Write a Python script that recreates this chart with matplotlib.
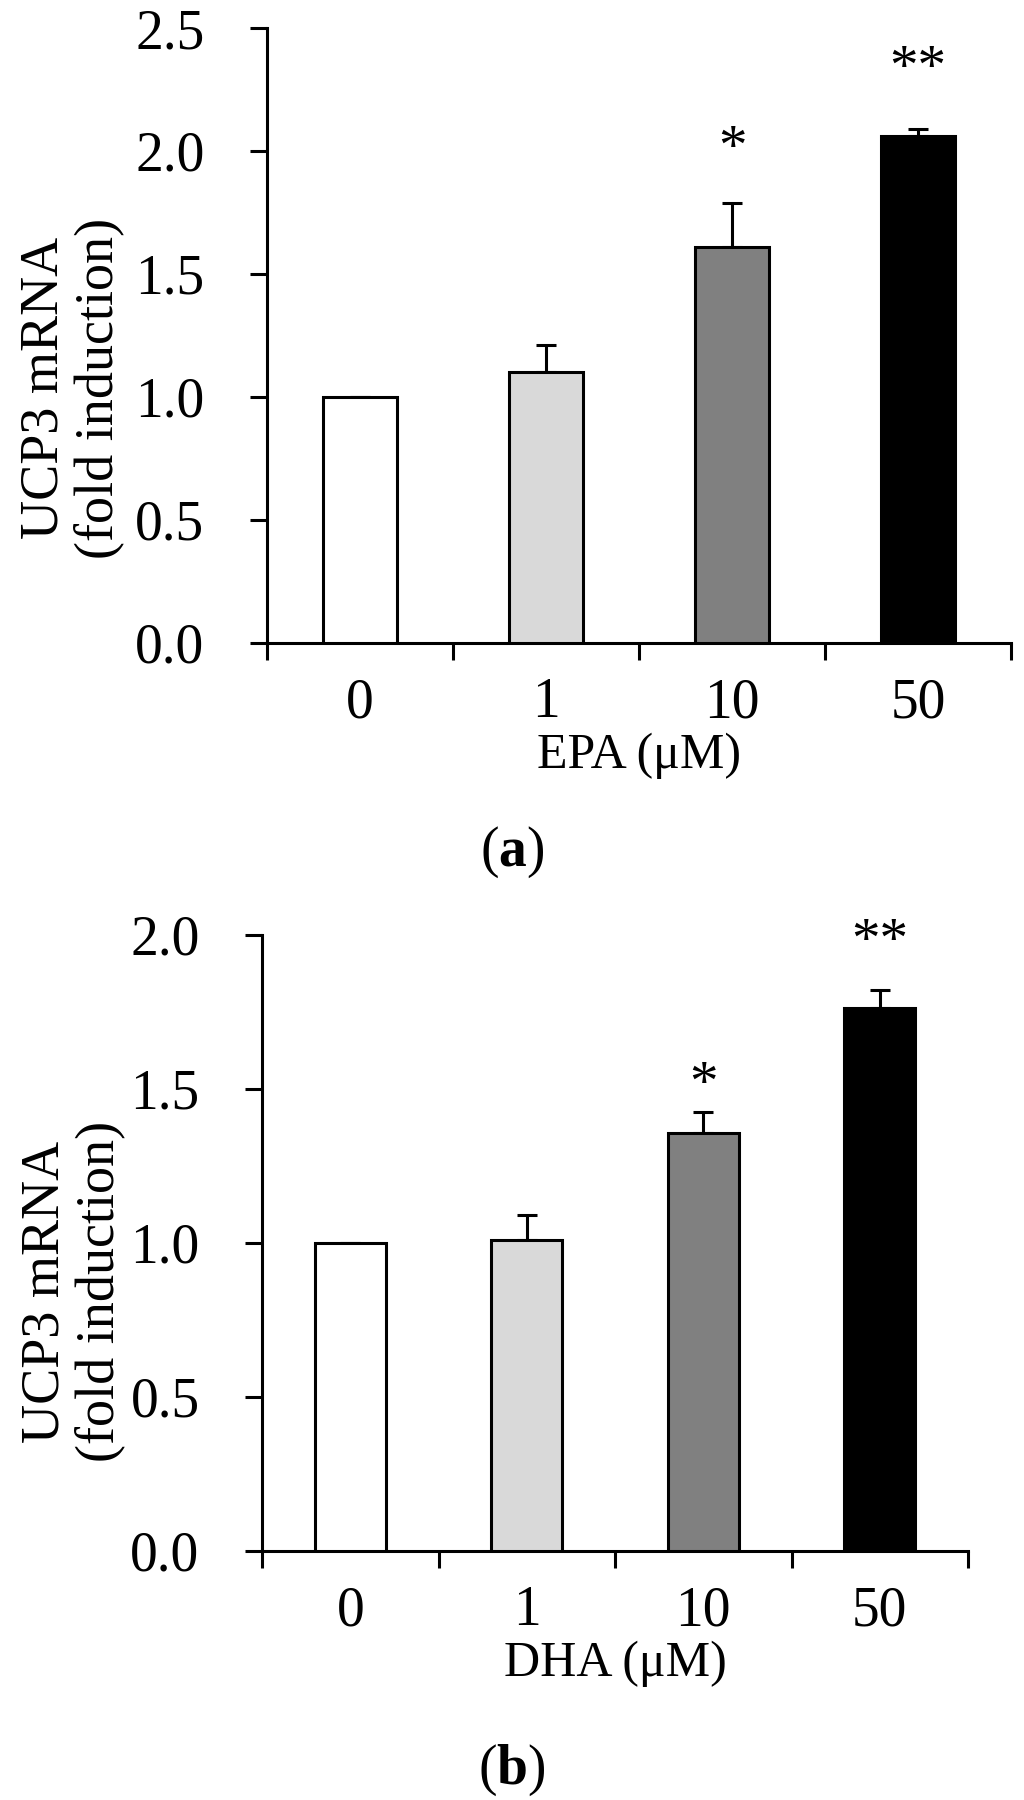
import matplotlib
matplotlib.use('Agg')
import matplotlib.pyplot as plt
import numpy as np

# data
doses = ['0', '1', '10', '50']
bar_colors = ['#ffffff', '#d9d9d9', '#808080', '#000000']

epa_mean = [1.00, 1.10, 1.61, 2.06]
epa_err = [0.00, 0.11, 0.18, 0.03]
epa_stars = ['', '', '*', '**']

dha_mean = [1.00, 1.01, 1.355, 1.76]
dha_err = [0.00, 0.08, 0.068, 0.06]
dha_stars = ['', '', '*', '**']

plt.rcParams['font.family'] = ['Liberation Serif', 'DejaVu Serif']
plt.rcParams['mathtext.fontset'] = 'custom'
plt.rcParams['mathtext.rm'] = 'Liberation Serif'
plt.rcParams['mathtext.bf'] = 'Liberation Serif:bold'

LW = 2.2


def plot_panel(ax, means, errs, stars, ymax, xlabel, star_offsets, label_xy):
    """
    draw one bar panel
    """
    x = np.arange(len(means)) + 0.5

    ax.bar(x, means, width=0.4, color=bar_colors, edgecolor='black',
           linewidth=LW, zorder=3)
    ax.errorbar(x, means, yerr=[np.zeros(len(errs)), errs], fmt='none',
                ecolor='black', elinewidth=LW, capsize=7.5, capthick=LW,
                zorder=2)

    for xi, m, e, s, off in zip(x, means, errs, stars, star_offsets):
        if s:
            ax.annotate(s, xy=(xi, m + e), xytext=(0, off),
                        textcoords='offset points', ha='center',
                        va='baseline', fontsize=41)

    ax.set_xlim(0, len(means))
    ax.set_ylim(0, ymax)
    ax.set_yticks(np.arange(0, ymax + 0.01, 0.5))
    ax.set_yticklabels(['%.1f' % v for v in np.arange(0, ymax + 0.01, 0.5)])
    ax.set_xticks(np.arange(0, len(means) + 1))
    ax.set_xticklabels([])
    ax.set_xticks(x, minor=True)
    ax.set_xticklabels(doses, minor=True)

    ax.tick_params(axis='y', which='major', direction='out', length=12,
                   width=LW, labelsize=40, pad=33)
    ax.tick_params(axis='x', which='major', direction='out', length=12,
                   width=LW)
    ax.tick_params(axis='x', which='minor', length=0, labelsize=40, pad=25)

    for side in ['top', 'right']:
        ax.spines[side].set_visible(False)
    for side in ['left', 'bottom']:
        ax.spines[side].set_linewidth(LW)

    ax.set_xlabel(xlabel, fontsize=36, labelpad=2)
    ax.set_ylabel('UCP3 mRNA\n(fold induction)', fontsize=39,
                  linespacing=1.1)
    ax.yaxis.label.set_rotation_mode('default')
    ax.yaxis.label.set_va('center')
    ax.yaxis.set_label_coords(*label_xy)


fig = plt.figure(figsize=(10.24, 18), dpi=100)

ax1 = fig.add_axes([0.2607, 0.643, 0.7266, 0.3414])
plot_panel(ax1, epa_mean, epa_err, epa_stars, 2.5, 'EPA (μM)',
           [0, 0, 28, 32], (-0.262, 0.414))

ax2 = fig.add_axes([0.2559, 0.1385, 0.6894, 0.3423])
plot_panel(ax2, dha_mean, dha_err, dha_stars, 2.0, 'DHA (μM)',
           [0, 0, 9, 24], (-0.268, 0.42))

fig.text(0.5, 1 - 852 / 1800, r'($\mathbf{a}$)', ha='center', va='center',
         fontsize=40)
fig.text(0.5, 1 - 1770 / 1800, r'($\mathbf{b}$)', ha='center', va='center',
         fontsize=40)

fig.savefig('out.png', dpi=100, facecolor='white')
